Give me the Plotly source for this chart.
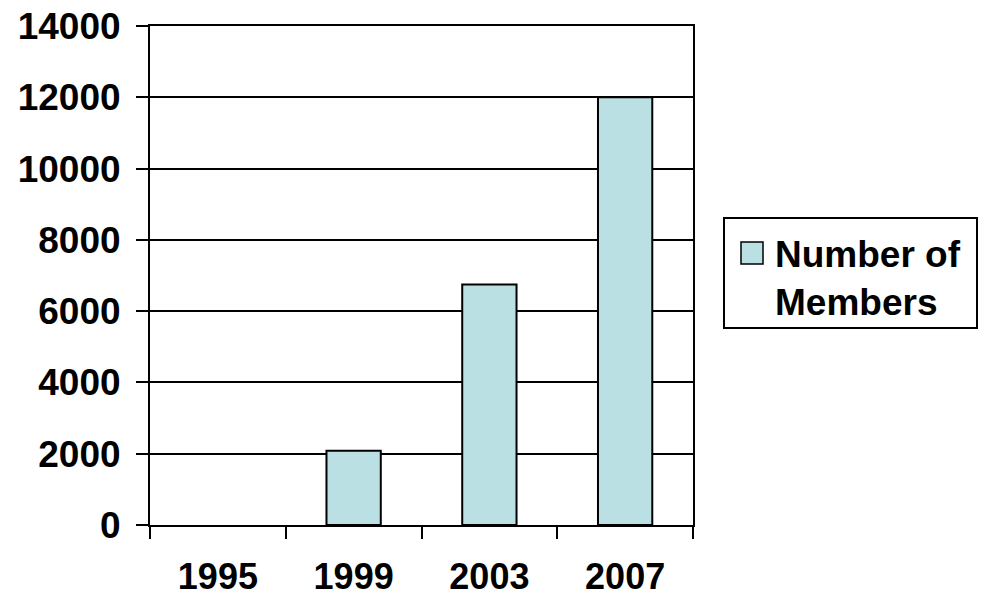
import plotly.graph_objects as go

# Membership counts by year
years = ["1995", "1999", "2003", "2007"]
members = [0, 2080, 6750, 12000]
y_ticks = [0, 2000, 4000, 6000, 8000, 10000, 12000, 14000]

FONT = "Liberation Sans, Arial, sans-serif"
BAR_FILL = "#BBE0E3"

# Empty years get no outline so nothing is drawn on the baseline
outline_widths = [2 if v > 0 else 0 for v in members]

fig = go.Figure()
fig.add_trace(go.Bar(
    x=years,
    y=members,
    name="Number of Members",
    marker=dict(color=BAR_FILL, line=dict(color="black", width=outline_widths)),
    width=0.4,
    showlegend=False,
))

fig.update_layout(
    width=983,
    height=597,
    margin=dict(l=150, r=290, t=26, b=72, autoexpand=False),
    paper_bgcolor="white",
    plot_bgcolor="white",
    font=dict(family=FONT, size=37, color="black"),
)

fig.update_xaxes(
    type="category",
    automargin=False,
    showline=True, linecolor="black", linewidth=2, mirror=True,
    ticks="outside", tickson="boundaries", ticklen=12, tickwidth=2, tickcolor="black",
    showgrid=False,
    tickfont=dict(family=FONT, size=36, color="black", weight="bold"),
    ticklabelstandoff=19,
)

fig.update_yaxes(
    range=[0, 14000],
    automargin=False,
    tickvals=y_ticks,
    ticktext=[str(v) for v in y_ticks],
    showline=True, linecolor="black", linewidth=2, mirror=True,
    ticks="outside", ticklen=12, tickwidth=2, tickcolor="black",
    showgrid=True, gridcolor="black", gridwidth=2,
    zeroline=False,
    tickfont=dict(family=FONT, size=37, color="black", weight="bold"),
    ticklabelstandoff=8,
)

# Legend drawn as a framed box with a swatch and wrapped label
fig.add_shape(type="rect", xref="paper", yref="paper",
              x0=(724 - 150) / 543, x1=(977 - 150) / 543,
              y0=(525 - 328) / 499, y1=(525 - 218) / 499,
              line=dict(color="black", width=2), fillcolor="white")
fig.add_shape(type="rect", xref="paper", yref="paper",
              x0=(741 - 150) / 543, x1=(763 - 150) / 543,
              y0=(525 - 264) / 499, y1=(525 - 242) / 499,
              line=dict(color="black", width=1.5), fillcolor=BAR_FILL)
fig.add_annotation(
    xref="paper", yref="paper",
    x=(773 - 150) / 543, y=(525 - 278) / 499,
    xanchor="left", yanchor="middle", align="left",
    text="<b>Number of</b><br><b>Members</b>",
    showarrow=False,
    font=dict(family=FONT, size=37, color="black"),
)

fig.write_html("out.html")
